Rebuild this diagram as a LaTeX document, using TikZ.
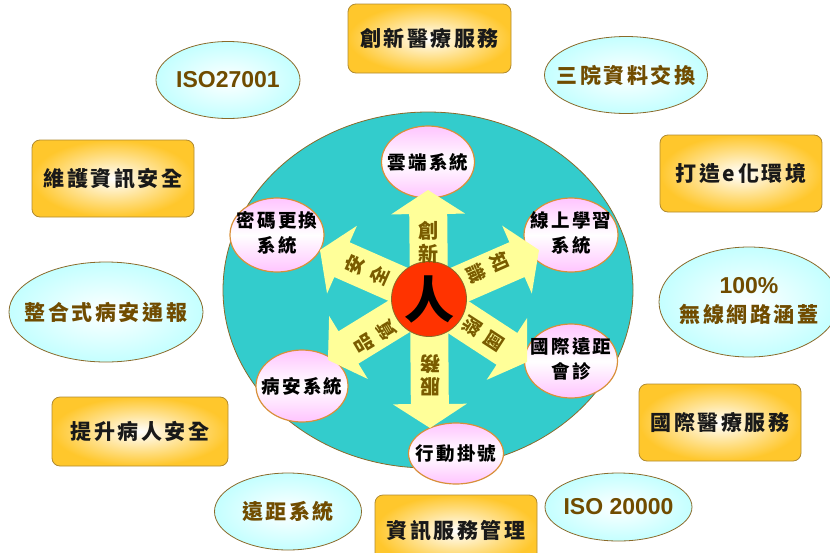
\documentclass[tikz,border=0pt]{standalone}
\usepackage{fontspec}
\setmainfont{Liberation Sans}
\newfontfamily\cjk{Noto Sans CJK TC}[LetterSpace=12]
\newfontfamily\cjkplain{Noto Sans CJK TC}
\usetikzlibrary{shapes.geometric,calc}
\definecolor{gold}{HTML}{FFC72C}
\definecolor{boxborder}{HTML}{B08A30}
\definecolor{cyanfill}{HTML}{C4FFFF}
\definecolor{ellborder}{HTML}{8A6A2A}
\definecolor{diskfill}{HTML}{33CCCC}
\definecolor{pinkfill}{HTML}{FFC4FF}
\definecolor{pinkborder}{HTML}{D8903A}
\definecolor{arrowfill}{HTML}{FFFF99}
\definecolor{redfill}{HTML}{FF3300}
\definecolor{browntext}{HTML}{704C00}
\definecolor{olivetext}{HTML}{7A5C00}
\newcommand\zc[1]{\makebox[0pt]{#1}}
\newcommand\zcc[2]{\makebox[0pt]{\begin{tabular}{@{}c@{}}#1\\#2\end{tabular}}}
\begin{document}
\begin{tikzpicture}[x=1pt,y=-1pt,
  goldbox/.style={draw=boxborder, line width=0.8pt, rounded corners=8pt,
    inner color=white, outer color=gold, inner sep=0pt, text=black!90,
    font=\cjk\bfseries\fontsize{21}{25}\selectfont},
  cyanell/.style={ellipse, draw=ellborder, line width=0.8pt, inner sep=0pt,
    inner color=white, outer color=cyanfill, text=browntext,
    font=\cjk\bfseries\fontsize{21}{29}\selectfont},
  isotext/.style={font=\bfseries\fontsize{23}{29}\selectfont},
  pinkell/.style={ellipse, draw=pinkborder, line width=1.2pt, inner sep=0pt,
    top color=pinkfill, bottom color=pinkfill, middle color=white, text=black,
    font=\cjk\bfseries\fontsize{18.5}{25}\selectfont},
  disk/.style={ellipse, draw=ellborder, line width=0.8pt, fill=diskfill, inner sep=0pt},
  arrlabel/.style={text=olivetext, align=center, inner sep=0pt,
    font=\cjkplain\bfseries\fontsize{20}{23}\selectfont},
  diaglabel/.style={arrlabel, font=\cjkplain\bfseries\fontsize{19}{27}\selectfont}
]
\useasboundingbox (0,0) rectangle (830,552);
\clip (0,0) rectangle (830,552);

% outer gold boxes
\node[goldbox, minimum width=163, minimum height=69] (b1) at (429.5,38.5) {創新醫療服務};
\node[goldbox, minimum width=162, minimum height=77] (b2) at (113,178.5) {維護資訊安全};
\node[goldbox, minimum width=162, minimum height=77] (b3) at (741,173.5) {打造e化環境};
\node[goldbox, minimum width=176, minimum height=69] (b4) at (140,431.5) {提升病人安全};
\node[goldbox, minimum width=162, minimum height=77] (b5) at (720,422.5) {國際醫療服務};
\node[goldbox, minimum width=162, minimum height=72] (b6) at (456,531) {資訊服務管理};

% outer cyan ellipses
\node[cyanell, isotext, minimum width=144, minimum height=77] (e1) at (228,80) {\zc{ISO27001}};
\node[cyanell, minimum width=163, minimum height=77] (e2) at (626,75) {\zc{三院資料交換}};
\node[cyanell, minimum width=194, minimum height=100] (e3) at (106,312) {\zc{整合式病安通報}};
\node[cyanell, minimum width=180, minimum height=110] (e4) at (749,302)
  {\zcc{{\normalfont\bfseries\fontsize{23}{29}\selectfont 100\%}}{無線網路涵蓋}};
\node[cyanell, minimum width=147, minimum height=77] (e5) at (288,511.5) {\zc{遠距系統}};
\node[cyanell, isotext, minimum width=147, minimum height=68] (e6) at (618.5,507) {\zc{ISO 20000}};

% central disk
\node[disk, minimum width=410, minimum height=356] (dsk) at (428,290) {};

% inner pink ellipses
\node[pinkell, minimum width=93, minimum height=72] (p1) at (428,162) {\zc{雲端系統}};
\node[pinkell, minimum width=94, minimum height=74] (p2) at (277,235) {\zcc{密碼更換}{系統}};
\node[pinkell, minimum width=94, minimum height=74] (p3) at (571,235) {\zcc{線上學習}{系統}};
\node[pinkell, minimum width=93, minimum height=74] (p4) at (571,361) {\zcc{國際遠距}{會診}};
\node[pinkell, minimum width=92, minimum height=72] (p5) at (302,386) {\zc{病安系統}};
\node[pinkell, minimum width=95, minimum height=61] (p6) at (456,453.5) {\zc{行動掛號}};

% block arrows
\coordinate (O) at (429,298);
\coordinate (tU) at (428,190);
\coordinate (tUR) at (539,250);
\coordinate (tDR) at (527,362);
\coordinate (tD) at (430,428);
\coordinate (tDL) at (328,360);
\coordinate (tUL) at (320,250);
\foreach \t in {tU,tUR,tDR,tD,tDL,tUL}{
  \coordinate (B) at ($(\t)!24pt!(O)$);
  \fill[arrowfill] ($(O)!19pt!90:(\t)$) -- ($(B)!19pt!90:(\t)$) -- ($(B)!37pt!90:(\t)$)
    -- (\t) -- ($(B)!37pt!-90:(\t)$) -- ($(B)!19pt!-90:(\t)$) -- ($(O)!19pt!-90:(\t)$) -- cycle;
}

% center
\node[circle, fill=redfill, draw=ellborder, line width=0.8pt, minimum size=75, inner sep=0pt,
  font=\cjkplain\bfseries\fontsize{50}{50}\selectfont] (ren) at (429,299) {人};

% arrow labels
\node[arrlabel] (l1) at (428,242) {創\\新};
\node[diaglabel, rotate=-66] (l2) at (488,268) {知\\識};
\node[diaglabel, rotate=66] (l3) at (367,270) {安\\全};
\node[diaglabel, rotate=-123] (l4) at (483,334) {國\\際};
\node[diaglabel, rotate=121] (l5) at (375,337) {品\\質};
\node[arrlabel, rotate=180] (l6) at (430,375) {服\\務};
\end{tikzpicture}
\end{document}
